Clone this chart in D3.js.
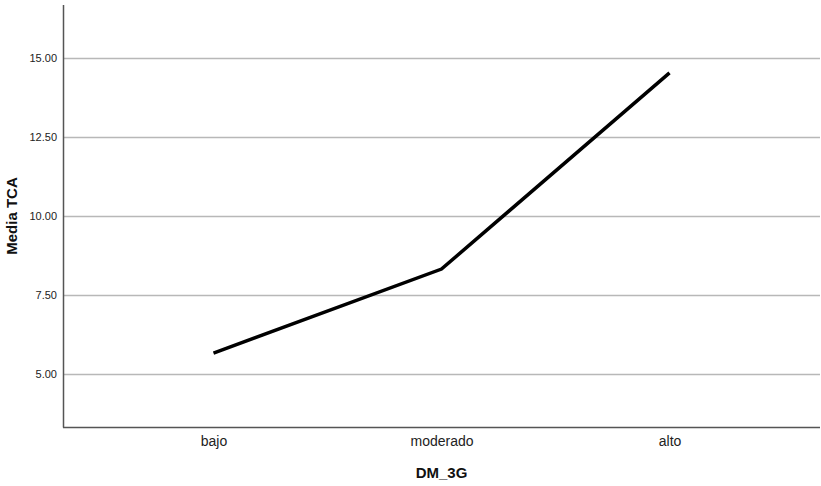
<!DOCTYPE html>
<html><head><meta charset="utf-8">
<script src="https://cdn.jsdelivr.net/npm/d3@7"></script>
<style>body{margin:0;background:#fff}svg{display:block}</style>
</head><body>
<svg id="c" width="821" height="486"></svg>
<script>
const categories = ["bajo", "moderado", "alto"];
const values = [5.66, 8.32, 14.53];
const yTicks = [5, 7.5, 10, 12.5, 15];

const svg = d3.select("#c");
const m = {l: 63, r: 820, t: 5, b: 427};
const x = d3.scalePoint().domain(categories).range([m.l, m.r]).padding(0.66);
const y = d3.scaleLinear().domain([3.32, 16.68]).range([m.b, m.t]);

// gridlines
svg.append("g").selectAll("line").data(yTicks).join("line")
  .attr("x1", m.l).attr("x2", m.r)
  .attr("y1", d => Math.round(y(d)) + 0.5).attr("y2", d => Math.round(y(d)) + 0.5)
  .attr("stroke", "#b8b8b8").attr("stroke-width", 1.5);

// y axis
const ya = svg.append("g").attr("transform", `translate(${m.l},0)`)
  .call(d3.axisLeft(y).tickValues(yTicks).tickFormat(d3.format(".2f")).tickSize(0).tickPadding(6));
ya.select(".domain").remove();
ya.selectAll("text").attr("font-family", "Liberation Sans, Arial, sans-serif").attr("font-size", 11).attr("fill", "#222");

// x axis
const xa = svg.append("g").attr("transform", `translate(0,${m.b})`)
  .call(d3.axisBottom(x).tickSize(0).tickPadding(9));
xa.select(".domain").remove();
xa.selectAll("text").attr("font-family", "Liberation Sans, Arial, sans-serif").attr("font-size", 14).attr("fill", "#222");

// axis lines
svg.append("line").attr("x1", m.l + 0.5).attr("x2", m.l + 0.5).attr("y1", m.t).attr("y2", m.b + 0.5)
  .attr("stroke", "#555").attr("stroke-width", 1.5);
svg.append("line").attr("x1", m.l).attr("x2", m.r).attr("y1", m.b + 0.5).attr("y2", m.b + 0.5)
  .attr("stroke", "#555").attr("stroke-width", 1.5);

// line
svg.append("path").datum(categories.map((c, i) => [c, values[i]]))
  .attr("fill", "none").attr("stroke", "#000").attr("stroke-width", 3.5)
  .attr("d", d3.line().x(d => x(d[0])).y(d => y(d[1])));

// labels
svg.append("text").attr("x", x("moderado")).attr("y", 478).attr("text-anchor", "middle")
  .attr("font-family", "Liberation Sans, Arial, sans-serif").attr("font-weight", "bold").attr("font-size", 15)
  .attr("fill", "#111").text("DM_3G");
svg.append("text").attr("transform", `translate(17,${(m.t + m.b) / 2}) rotate(-90)`).attr("text-anchor", "middle")
  .attr("font-family", "Liberation Sans, Arial, sans-serif").attr("font-weight", "bold").attr("font-size", 15)
  .attr("fill", "#111").text("Media TCA");
</script>
</body></html>
